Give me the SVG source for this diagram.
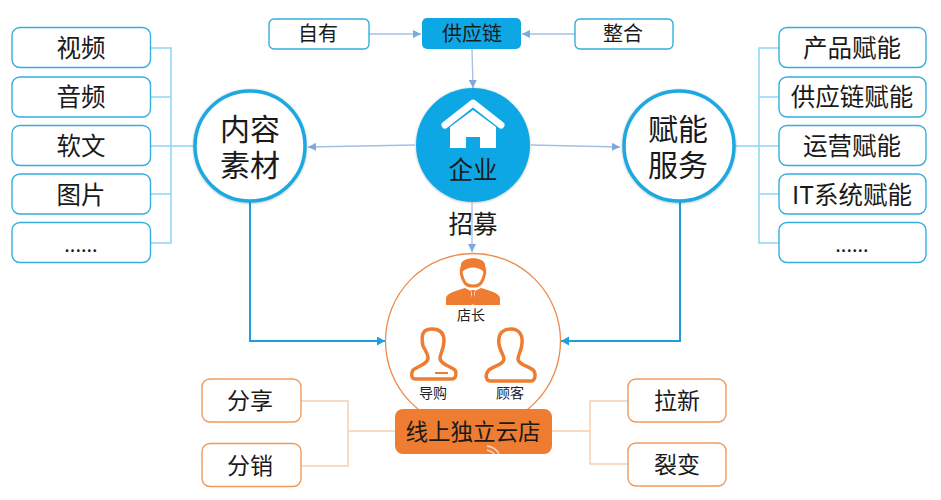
<svg xmlns="http://www.w3.org/2000/svg" width="941" height="500" viewBox="0 0 941 500">
<style>
text{font-family:"Noto Sans CJK SC","Liberation Sans",sans-serif;fill:#1a1a1a;text-anchor:middle;dominant-baseline:central}
.b{fill:#fff;stroke:#35aedd;stroke-width:1.4}
.o{fill:#fff;stroke:#ee9a5e;stroke-width:1.4}
.t{font-size:24.500px}
.u{font-size:23px}
.k{font-size:22.500px}
.m{font-size:20px}
text.big{font-size:30px;font-family:"Liberation Sans","Noto Sans CJK SC",sans-serif}
.s{font-size:14px;fill:#222}
.lb{fill:none;stroke:#8fd6f2;stroke-width:1.5}
.lo{fill:none;stroke:#f6cfae;stroke-width:1.5}
.la{fill:none;stroke:#a3c0e4;stroke-width:1.3}
.ls{fill:none;stroke:#1c9fdc;stroke-width:2}
.p{fill:none;stroke:#ee7d31;stroke-width:3.5;stroke-linejoin:round}
</style>
<defs>
<marker id="a" markerWidth="10" markerHeight="8" refX="8" refY="4" orient="auto" markerUnits="userSpaceOnUse"><path d="M0 0L8 4L0 8z" fill="#7fa8dc"/></marker>
<marker id="c" markerWidth="10" markerHeight="10" refX="8" refY="4.500" orient="auto" markerUnits="userSpaceOnUse"><path d="M0 0L8 4.500L0 9z" fill="#1c9fdc"/></marker>
<filter id="sh" x="-10%" y="-10%" width="120%" height="120%"><feDropShadow dx="0" dy="0.500" stdDeviation="1.200" flood-color="#000" flood-opacity=".3"/></filter>
</defs>
<rect width="941" height="500" fill="#fff"/>
<g id="connectors">
<path class="lb" d="M151 48H171V243H151M151 97H171M151 146H195M151 194H171"/>
<path class="lb" d="M779 48H759V243H779M779 97H759M779 146H735M779 194H759"/>
<path class="lo" d="M301 401H348V466H301M348 431H395"/>
<path class="lo" d="M628 401H590V464H628M552 431H590"/>
<path class="la" d="M369 34H421" marker-end="url(#a)"/>
<path class="la" d="M575 34H522" marker-end="url(#a)"/>
<path class="la" d="M472 49L473 88" marker-end="url(#a)"/>
<path class="la" d="M415 145L308 147" marker-end="url(#a)"/>
<path class="la" d="M531 145L620 147" marker-end="url(#a)"/>
<path class="la" d="M472 203V252" marker-end="url(#a)"/>
<path class="ls" d="M250 202V341H385" marker-end="url(#c)"/>
<path class="ls" d="M680 202V341H561" marker-end="url(#c)"/>
</g>
<g id="n-video"><rect class="b" x="12" y="27.500" width="138.500" height="40" rx="8"/><text class="t" x="81" y="46">视频</text></g>
<g id="n-audio"><rect class="b" x="12" y="77" width="138.500" height="40" rx="8"/><text class="t" x="81" y="95">音频</text></g>
<g id="n-article"><rect class="b" x="12" y="125.500" width="138.500" height="40" rx="8"/><text class="t" x="81" y="144">软文</text></g>
<g id="n-picture"><rect class="b" x="12" y="174" width="138.500" height="40" rx="8"/><text class="t" x="81" y="193">图片</text></g>
<g id="n-more-l"><rect class="b" x="12" y="222.500" width="138.500" height="40" rx="8"/><text class="m" x="81" y="243">......</text></g>
<g id="n-r1"><rect class="b" x="779" y="27.500" width="147" height="40" rx="8"/><text class="t" x="852" y="46">产品赋能</text></g>
<g id="n-r2"><rect class="b" x="779" y="77" width="147" height="40" rx="8"/><text class="t" x="852" y="95">供应链赋能</text></g>
<g id="n-r3"><rect class="b" x="779" y="125.500" width="147" height="40" rx="8"/><text class="t" x="852" y="144">运营赋能</text></g>
<g id="n-r4"><rect class="b" x="779" y="174" width="147" height="40" rx="8"/><text class="t" x="852" y="193">IT系统赋能</text></g>
<g id="n-more-r"><rect class="b" x="779" y="222.500" width="147" height="40" rx="8"/><text class="m" x="852" y="243">......</text></g>
<g id="n-own"><rect class="b" x="269" y="19" width="100" height="30" rx="5"/><text class="m" x="318" y="32.500">自有</text></g>
<g id="n-merge"><rect class="b" x="575" y="19" width="98" height="30" rx="5"/><text class="m" x="623" y="32.500">整合</text></g>
<g id="n-supply"><rect x="422" y="18" width="99" height="31" rx="5" fill="#0ea7e6"/><text class="m" x="472" y="32.500">供应链</text></g>
<g id="n-content"><circle cx="250" cy="146" r="55" fill="#fff" stroke="#1fa8e0" stroke-width="3.500" filter="url(#sh)"/><text class="big" x="250" y="129">内容</text><text class="big" x="250" y="165">素材</text></g>
<g id="n-service"><circle cx="679" cy="146" r="55" fill="#fff" stroke="#1fa8e0" stroke-width="3.500" filter="url(#sh)"/><text class="big" x="678" y="129">赋能</text><text class="big" x="678" y="165">服务</text></g>
<g id="n-company"><circle cx="473" cy="145" r="57" fill="#0ea7e6" filter="url(#sh)"/>
<path d="M445 125L473 103L501 125" fill="none" stroke="#fff" stroke-width="7" stroke-linecap="round" stroke-linejoin="round"/>
<path d="M450 127L473 110L496 127V148H480V137H466V148H450z" fill="#fff"/>
<text class="t" x="473" y="168">企业</text></g>
<g id="n-recruit"><text class="t" x="473" y="222">招募</text></g>
<g id="n-store"><circle cx="473" cy="341" r="87.500" fill="#fff" stroke="#ee8a4a" stroke-width="1.300"/>
<g id="p-manager"><path d="M462 267C464 258 482 258 484 267C486 272 484 278 481 283C478 287 468 287 465 283C462 278 460 272 462 267z" fill="#fff" stroke="#ee7d31" stroke-width="3"/><path d="M461 265C461 256 485 256 485 265L484 272C478 266 468 266 462 272z" fill="#ee7d31"/><path d="M446 305V298C447 293 455 291 465 288L471 291L472 305zM500 305V298C499 293 491 291 481 288L475 291L474 305z" fill="#ee7d31"/><path d="M471 290H475L474 294L476 302L473 305L470 302L472 294z" fill="#ee7d31"/></g>
<text class="s" x="471" y="314">店长</text>
<g id="p-guide"><path class="p" d="M423 346C420 332 425 329 432 329C440 329 444 333 444 341C444 349 440 354 440 358C440 364 450 366 455 370C457 373 456 379 452 379H415C411 379 411 373 413 370C418 366 428 364 428 358C428 354 425 350 423 346z"/><path d="M435 373H448" stroke="#ee7d31" stroke-width="2" fill="none"/></g>
<text class="s" x="433" y="392">导购</text>
<g id="p-customer"><path class="p" d="M499 339C499 332 505 329 511 329C519 329 523 335 522 343C522 350 518 355 518 359C518 365 530 366 534 371C536 375 535 381 531 381H490C486 381 485 375 488 371C492 366 504 365 504 359C504 354 497 348 499 339z"/></g>
<text class="s" x="510" y="392">顾客</text>
</g>
<g id="n-online"><rect x="395" y="409" width="157" height="45" rx="8" fill="#ee7d31"/><text class="k" x="473" y="430">线上独立云店</text><path d="M487 446C493 447 497 450 499 454M487 450C490 451 493 452 494 454" fill="none" stroke="#f8d8c0" stroke-width="1.500"/></g>
<g id="n-share"><rect class="o" x="202" y="379" width="99" height="43" rx="8"/><text class="u" x="250" y="399">分享</text></g>
<g id="n-dist"><rect class="o" x="202" y="443.500" width="99" height="43" rx="8"/><text class="u" x="250" y="464">分销</text></g>
<g id="n-new"><rect class="o" x="628" y="379" width="98" height="43" rx="8"/><text class="u" x="677" y="399">拉新</text></g>
<g id="n-split"><rect class="o" x="628" y="443" width="98" height="43" rx="8"/><text class="u" x="677" y="463">裂变</text></g>
</svg>
